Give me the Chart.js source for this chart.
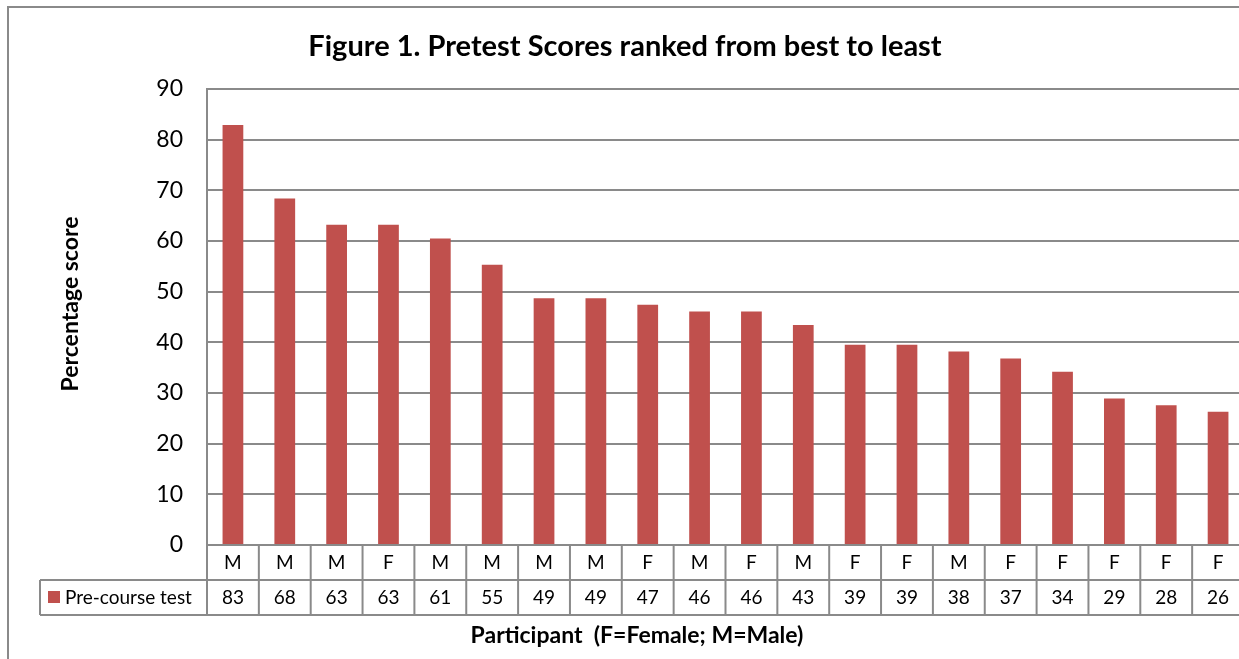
<!DOCTYPE html>
<html>
<head>
<meta charset="utf-8">
<script src="https://cdn.jsdelivr.net/npm/chart.js@4.4.0/dist/chart.umd.min.js"></script>
<style>
html, body { margin: 0; padding: 0; background: #fff; overflow: hidden; }
#wrap { width: 1250px; height: 659px; }
</style>
</head>
<body>
<div id="wrap"><canvas id="myChart" width="1250" height="659"></canvas></div>
<script>
'use strict'

// data

var participants = ['M', 'M', 'M', 'F', 'M', 'M', 'M', 'M', 'F', 'M', 'F', 'M', 'F', 'F', 'M', 'F', 'F', 'F', 'F', 'F'];
var scores = [82.9, 68.4, 63.2, 63.2, 60.5, 55.3, 48.7, 48.7, 47.4, 46.1, 46.1, 43.4, 39.5, 39.5, 38.2, 36.8, 34.2, 28.9, 27.6, 26.3];
var tableValues = ['83', '68', '63', '63', '61', '55', '49', '49', '47', '46', '46', '43', '39', '39', '38', '37', '34', '29', '28', '26'];
var seriesName = 'Pre-course test';
var yMin = 0, yMax = 90, yStep = 10;

var barColor = '#C0504D';
var lineColor = '#8a8a8a';
var font = 'Lato, "Open Sans", sans-serif';

// draws frame, titles and the data table under the plot

var tablePlugin = {
	id: 'dataTable',
	afterDraw: function(chart) {
		var ctx = chart.ctx;
		var area = chart.chartArea;
		var xs = chart.scales.x;
		var n = participants.length;
		var colW = (area.right - area.left) / n;
		var y1 = area.bottom, y2 = y1 + 35, y3 = y2 + 35;
		var legendLeft = 40;

		ctx.save();
		ctx.strokeStyle = lineColor;
		ctx.lineWidth = 2;

		// outer frame
		ctx.beginPath();
		ctx.moveTo(8, 659);
		ctx.lineTo(8, 7);
		ctx.lineTo(1250, 7);
		ctx.stroke();

		// table grid
		ctx.beginPath();
		ctx.moveTo(area.left, y1); ctx.lineTo(area.right, y1);
		ctx.moveTo(legendLeft, y2); ctx.lineTo(area.right, y2);
		ctx.moveTo(legendLeft, y3); ctx.lineTo(area.right, y3);
		ctx.moveTo(legendLeft, y2); ctx.lineTo(legendLeft, y3);
		for (var i = 0; i <= n; i++) {
			var x = area.left + i * colW;
			ctx.moveTo(x, y1); ctx.lineTo(x, y3);
		}
		ctx.stroke();

		// table text
		ctx.fillStyle = '#000';
		ctx.font = '19px ' + font;
		ctx.textAlign = 'center';
		ctx.textBaseline = 'middle';
		participants.forEach(function(p, i) {
			var cx = xs.getPixelForValue(i);
			ctx.fillText(p, cx, y1 + 18);
			ctx.fillText(tableValues[i], cx, y2 + 18);
		});

		// legend key
		ctx.fillStyle = barColor;
		ctx.fillRect(48, y2 + 11, 12, 12);
		ctx.fillStyle = '#000';
		ctx.textAlign = 'left';
		ctx.fillText(seriesName, 65, y2 + 18);

		// titles
		ctx.textAlign = 'center';
		ctx.font = 'bold 29px ' + font;
		ctx.fillText('Figure 1. Pretest Scores ranked from best to least', 625, 47);

		ctx.font = 'bold 23px ' + font;
		ctx.fillText('Participant  (F=Female; M=Male)', 637, 636);

		ctx.translate(71, 304);
		ctx.rotate(-Math.PI / 2);
		ctx.fillText('Percentage score', 0, 0);
		ctx.restore();
	}
};

var ctx = document.getElementById('myChart').getContext('2d');

var chart = new Chart(ctx, {
	type: 'bar',
	data: {
		labels: participants,
		datasets: [{
			label: seriesName,
			data: scores,
			backgroundColor: barColor,
			borderWidth: 0,
			categoryPercentage: 1,
			barPercentage: 0.4
		}]
	},
	options: {
		responsive: false,
		animation: false,
		devicePixelRatio: 1,
		layout: {
			padding: { top: 89, bottom: 114, left: 0, right: 6 }
		},
		plugins: {
			legend: { display: false },
			title: { display: false },
			tooltip: { enabled: false }
		},
		scales: {
			x: {
				display: false
			},
			y: {
				min: yMin,
				max: yMax,
				afterFit: function(scale) { scale.width = 207; },
				ticks: {
					stepSize: yStep,
					padding: 24,
					color: '#000',
					font: { family: font, size: 23 }
				},
				grid: {
					color: lineColor,
					lineWidth: 2,
					drawTicks: false
				},
				border: { color: lineColor, width: 2 }
			}
		}
	},
	plugins: [tablePlugin]
});
</script>
</body>
</html>
